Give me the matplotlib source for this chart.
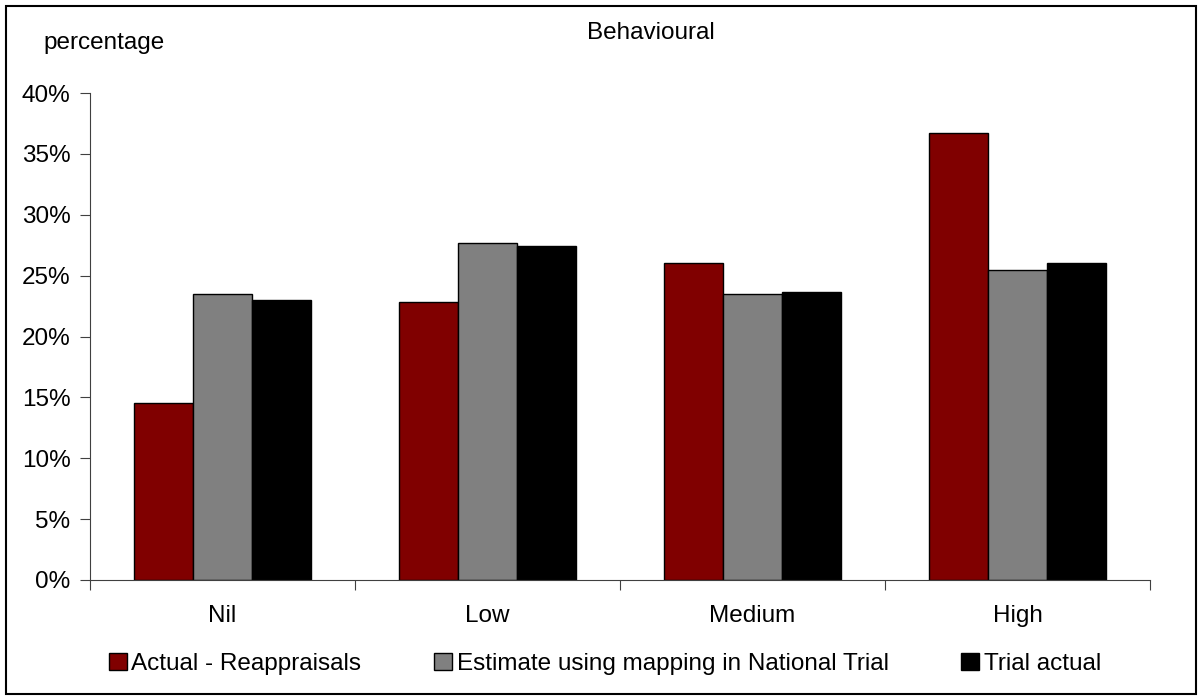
import matplotlib
matplotlib.use('Agg')
import matplotlib.pyplot as plt
from matplotlib.patches import Rectangle
import numpy as np

plt.rcParams['font.family'] = ['Liberation Sans', 'DejaVu Sans']

categorias = ['Nil', 'Low', 'Medium', 'High']
series = ['Actual - Reappraisals', 'Estimate using mapping in National Trial', 'Trial actual']
reappraisals = [14.5, 22.85, 26.0, 36.75]
estimate = [23.5, 27.65, 23.45, 25.45]
trial_actual = [23.0, 27.4, 23.65, 26.05]
cores = ['#800000', '#808080', '#000000']

fs = 17.5

fig = plt.figure(figsize=(11.98, 7), dpi=100)
ax = fig.add_axes([90 / 1198, 120 / 700, 1060 / 1198, 487 / 700])

# borda externa do grafico
fig.patches.append(Rectangle((6 / 1198, 6 / 700), 1190 / 1198, 688 / 700, transform=fig.transFigure,
                             fill=False, edgecolor='black', linewidth=1.5))

x = np.arange(len(categorias)) + 0.5
largura = 1 / 4.5
for i, (valores, cor) in enumerate(zip([reappraisals, estimate, trial_actual], cores)):
    ax.bar(x + (i - 1) * largura, np.array(valores) / 100, largura, color=cor,
           edgecolor='black', linewidth=1, label=series[i])

ax.set_xlim(0, 4)
ax.set_ylim(0, 0.40)
ax.set_yticks(np.arange(0, 0.41, 0.05))
ax.set_yticklabels([f'{int(round(v * 100))}%' for v in np.arange(0, 0.41, 0.05)], fontsize=fs)
ax.set_xticks(np.arange(0, 5))
ax.set_xticklabels([])
ax.set_xticks(x, minor=True)
ax.set_xticklabels(categorias, minor=True, fontsize=fs)
ax.tick_params(axis='x', which='minor', length=0, pad=18)
ax.tick_params(axis='x', which='major', length=7, direction='out', color='#404040')
ax.tick_params(axis='y', length=7, direction='out', color='#404040', pad=7)

for lado in ['top', 'right']:
    ax.spines[lado].set_visible(False)
for lado in ['left', 'bottom']:
    ax.spines[lado].set_color('#404040')

fig.text(651 / 1198, 1 - 33 / 700, 'Behavioural', ha='center', va='center', fontsize=fs)
fig.text(43 / 1198, 1 - 43 / 700, 'percentage', ha='left', va='center', fontsize=fs)

handles, labels = ax.get_legend_handles_labels()
fig.legend(handles, labels, loc='center', bbox_to_anchor=(605 / 1198, 1 - 664 / 700), ncol=3,
           frameon=False, fontsize=fs, handlelength=0.74, handleheight=0.74, handletextpad=0.18,
           columnspacing=3.0, borderpad=0, borderaxespad=0)

fig.savefig('out.png', dpi=100)
